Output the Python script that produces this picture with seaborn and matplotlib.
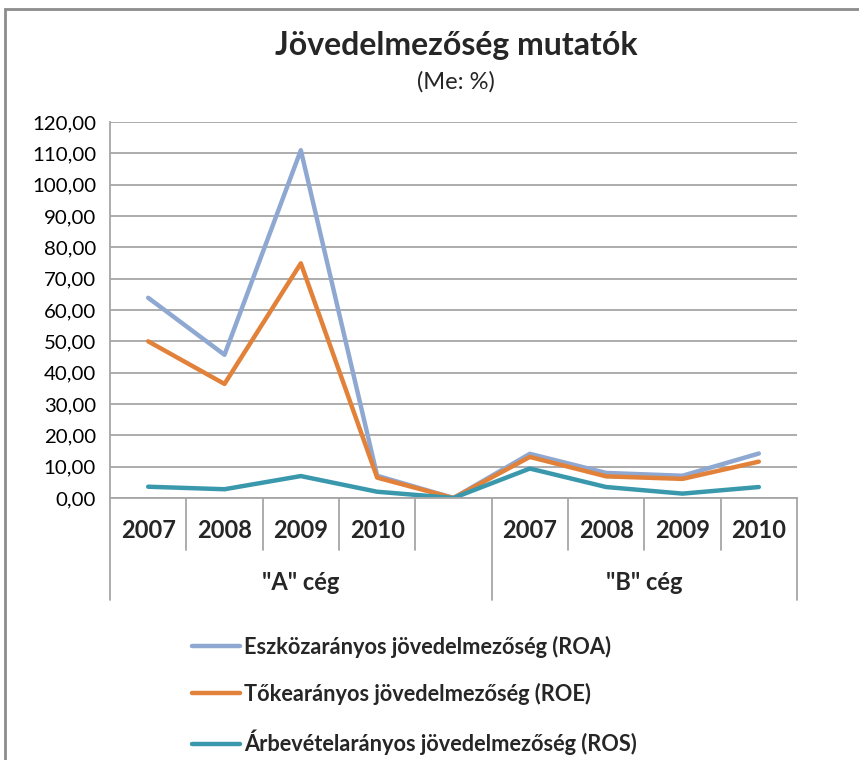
import numpy as np
import pandas as pd
import matplotlib
matplotlib.use("Agg")
import matplotlib.pyplot as plt
import matplotlib.transforms as mtransforms
from matplotlib.patches import Rectangle
import seaborn as sns

# adatok
years = ["2007", "2008", "2009", "2010", "", "2007", "2008", "2009", "2010"]
groups = ['"A" cég', '"B" cég']
group_spans = [(0, 5), (5, 9)]  # kategória-tartományok cégenként

roa = [63.9, 45.7, 111.0, 7.1, 0.0, 14.1, 8.0, 7.1, 14.2]
roe = [50.0, 36.4, 74.9, 6.5, 0.0, 13.1, 6.9, 6.1, 11.6]
ros = [3.6, 2.8, 7.0, 2.0, 0.0, 9.4, 3.5, 1.4, 3.5]

series_names = [
    "Eszközarányos jövedelmezőség (ROA)",
    "Tőkearányos jövedelmezőség (ROE)",
    "Árbevételarányos jövedelmezőség (ROS)",
]
colors = ["#8FA8D1", "#E2823A", "#3A98AD"]

rows = []
for name, vals in zip(series_names, [roa, roe, ros]):
    for i, v in enumerate(vals):
        rows.append({"pos": i, "value": v, "series": name})
df = pd.DataFrame(rows)

sns.set_style("white")
plt.rcParams["font.family"] = ["Lato", "DejaVu Sans"]

fig = plt.figure(figsize=(8.59, 7.6), dpi=100)
ax = fig.add_axes([110 / 859, 1 - 498 / 760, (797 - 110) / 859, (498 - 122) / 760])

sns.lineplot(data=df, x="pos", y="value", hue="series", hue_order=series_names,
             palette=dict(zip(series_names, colors)), linewidth=3.2, ax=ax,
             legend=False)

ax.set_xlim(-0.5, len(years) - 0.5)
ax.set_ylim(0, 120)
ax.set_yticks(np.arange(0, 121, 10))
ax.set_yticklabels([f"{v:.2f}".replace(".", ",") for v in range(0, 121, 10)], fontsize=14.7)
ax.set_xticks([])
ax.set_xlabel("")
ax.set_ylabel("")
ax.grid(axis="y", color="#A6A6A6", linewidth=1.3)
ax.set_axisbelow(True)
for s in ["top", "right"]:
    ax.spines[s].set_visible(False)
ax.spines["left"].set_color("#A6A6A6")
ax.spines["bottom"].set_color("#A6A6A6")
ax.spines["left"].set_linewidth(1.3)
ax.spines["bottom"].set_linewidth(1.3)
ax.tick_params(axis="y", length=6, color="#A6A6A6", width=1.3, pad=4, labelcolor="black")

# többszintű kategóriatengely
trans = mtransforms.blended_transform_factory(ax.transData, ax.transAxes)
ax_h = 376
row1 = 52 / ax_h
row2 = 102 / ax_h
for k in range(len(years) + 1):
    x = k - 0.5
    low = row2 if k in (0, 5, 9) else row1
    ax.plot([x, x], [0, -low], transform=trans, color="#A6A6A6", lw=1.3, clip_on=False)
for i, y in enumerate(years):
    ax.text(i, -33 / ax_h, y, transform=trans, ha="center", va="center",
            fontsize=17, fontweight="bold")
for g, (a, b) in zip(groups, group_spans):
    ax.text((a + b - 1) / 2, -84 / ax_h, g, transform=trans, ha="center", va="center",
            fontsize=17, fontweight="bold")

# cím
fig.text(456 / 859, 1 - 45 / 760, "Jövedelmezőség mutatók", ha="center", va="center",
         fontsize=23, fontweight="bold")
fig.text(456 / 859, 1 - 82 / 760, "(Me: %)", ha="center", va="center", fontsize=17)

# jelmagyarázat
handles = [plt.Line2D([], [], color=c, lw=3.2) for c in colors]
fig.legend(handles, series_names, loc="upper left", bbox_to_anchor=(172 / 859, 1 - 616 / 760),
           frameon=False, prop={"weight": "bold", "size": 15.7},
           handlelength=2.2, handletextpad=0.2, labelspacing=1.15)

# diagramkeret
fig.patches.append(Rectangle((5 / 859, -0.05), 1.2, 1 - 9 / 760 + 0.05, transform=fig.transFigure,
                             fill=False, edgecolor="#8C8C8C", linewidth=2, figure=fig))

fig.savefig("out.png", dpi=100)
